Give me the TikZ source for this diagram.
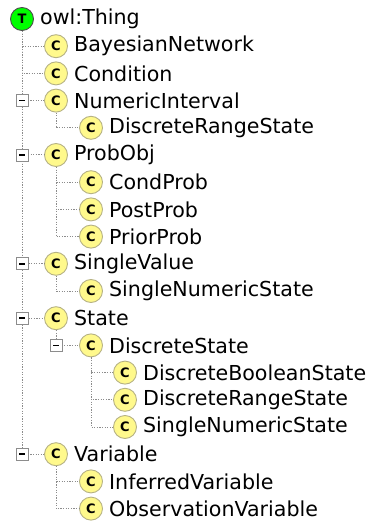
\documentclass[tikz,border=0pt]{standalone}
\usepackage{fontspec}
\setmainfont{DejaVu Sans}
\usetikzlibrary{positioning}

\begin{document}
\begin{tikzpicture}[x=1pt,y=-1pt,
    cls/.style={circle,draw=black!55!yellow!60,line width=0.9pt,fill=yellow!45,minimum size=23pt,inner sep=0pt,font=\fontsize{13}{13}\selectfont\bfseries},
    top/.style={cls,draw=black!70,fill=green},
    txt/.style={inner sep=0pt,right=6pt of #1,font=\fontsize{20.6}{22}\selectfont},
    tree/.style={draw=black!45,line width=1pt,dash pattern=on 1.3pt off 1.3pt},
    expand/.style={rectangle,draw=black!45,line width=0.9pt,fill=white,minimum size=12pt,inner sep=0pt,
        path picture={\draw[black,line width=1.5pt] ([xshift=3pt]path picture bounding box.west) -- ([xshift=-3pt]path picture bounding box.east);}}]
    \useasboundingbox (0,0) rectangle (374,521);

    % Classes
    \node[top] (thing) at (22,19) {T};        \node[txt=thing] (thing-t) {owl:Thing};
    \node[cls] (bayes) at (56,46.2) {C};      \node[txt=bayes] (bayes-t) {BayesianNetwork};
    \node[cls] (cond) at (56,73.4) {C};       \node[txt=cond] (cond-t) {Condition};
    \node[cls] (numint) at (56,100.6) {C};    \node[txt=numint] (numint-t) {NumericInterval};
    \node[cls] (nidrs) at (91,127.8) {C};     \node[txt=nidrs] (nidrs-t) {DiscreteRangeState};
    \node[cls] (prob) at (56,155) {C};        \node[txt=prob] (prob-t) {ProbObj};
    \node[cls] (condp) at (91,182.2) {C};     \node[txt=condp] (condp-t) {CondProb};
    \node[cls] (postp) at (91,209.4) {C};     \node[txt=postp] (postp-t) {PostProb};
    \node[cls] (priorp) at (91,236.6) {C};    \node[txt=priorp] (priorp-t) {PriorProb};
    \node[cls] (single) at (56,263.8) {C};    \node[txt=single] (single-t) {SingleValue};
    \node[cls] (svsns) at (91,291) {C};       \node[txt=svsns] (svsns-t) {SingleNumericState};
    \node[cls] (state) at (56,318.2) {C};     \node[txt=state] (state-t) {State};
    \node[cls] (dstate) at (91,345.4) {C};    \node[txt=dstate] (dstate-t) {DiscreteState};
    \node[cls] (dbool) at (125,372.6) {C};    \node[txt=dbool] (dbool-t) {DiscreteBooleanState};
    \node[cls] (drange) at (125,399.8) {C};   \node[txt=drange] (drange-t) {DiscreteRangeState};
    \node[cls] (dsns) at (125,427) {C};       \node[txt=dsns] (dsns-t) {SingleNumericState};
    \node[cls] (var) at (56,454.2) {C};       \node[txt=var] (var-t) {Variable};
    \node[cls] (infvar) at (91,481.4) {C};    \node[txt=infvar] (infvar-t) {InferredVariable};
    \node[cls] (obsvar) at (91,508.6) {C};    \node[txt=obsvar] (obsvar-t) {ObservationVariable};

    % Tree lines
    \draw[tree] (thing) |- (bayes);
    \draw[tree] (thing) |- (cond);
    \draw[tree] (thing) |- (numint);
    \draw[tree] (thing) |- (prob);
    \draw[tree] (thing) |- (single);
    \draw[tree] (thing) |- (state);
    \draw[tree] (thing) |- (var);
    \draw[tree] (numint) |- (nidrs);
    \draw[tree] (prob) |- (condp);
    \draw[tree] (prob) |- (postp);
    \draw[tree] (prob) |- (priorp);
    \draw[tree] (single) |- (svsns);
    \draw[tree] (state) |- (dstate);
    \draw[tree] (dstate) |- (dbool);
    \draw[tree] (dstate) |- (drange);
    \draw[tree] (dstate) |- (dsns);
    \draw[tree] (var) |- (infvar);
    \draw[tree] (var) |- (obsvar);

    % Expand boxes
    \node[expand] (numint-x) at (thing |- numint) {};
    \node[expand] (prob-x) at (thing |- prob) {};
    \node[expand] (single-x) at (thing |- single) {};
    \node[expand] (state-x) at (thing |- state) {};
    \node[expand] (dstate-x) at (state |- dstate) {};
    \node[expand] (var-x) at (thing |- var) {};
\end{tikzpicture}
\end{document}
